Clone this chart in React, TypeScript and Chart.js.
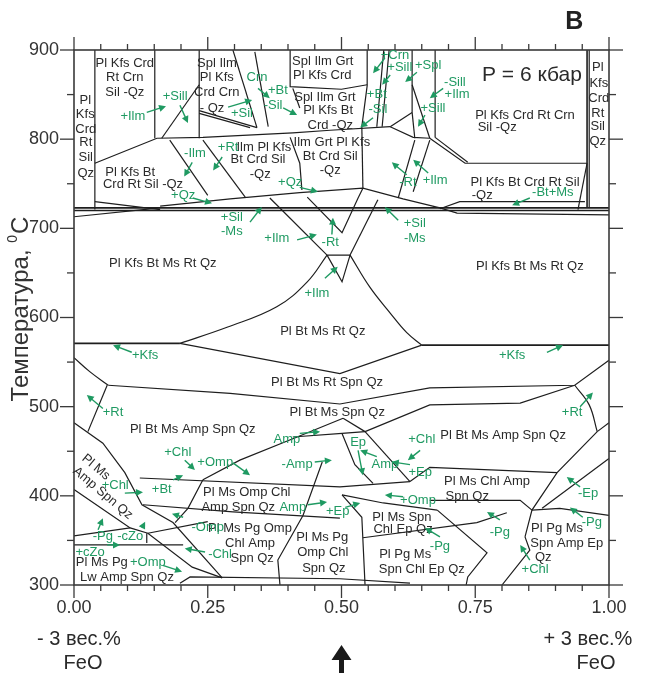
import React, { useEffect, useRef } from "react";
import { Chart, registerables } from "chart.js";
Chart.register(...registerables);

// ---- axis ticks ----
const xTickLabels = [0, 0.25, 0.5, 0.75, 1];
const yTickLabels = [300, 400, 500, 600, 700, 800, 900];

// ---- phase boundaries: [composition (0..1), T °C] ----
const thickLines: number[][][] = [
  [[0, 723], [1, 723]],
  [[0, 720], [1, 720]],
  [[0, 571], [0.198, 571]],
  [[0.65, 569], [1, 569]],
  [[0.959, 900], [0.959, 723]],
];

const topLines: number[][][] = [
  [[0.039, 900], [0.039, 721]],
  [[0.151, 900], [0.151, 801]],
  [[0.234, 900], [0.234, 801]],
  [[0.234, 861], [0.164, 801]],
  [[0.234, 832], [0.342, 813]],
  [[0.234, 829], [0.329, 813]],
  [[0.039, 773], [0.155, 801], [0.241, 802], [0.409, 807], [0.479, 810], [0.591, 814]],
  [[0.297, 900], [0.342, 813]],
  [[0.338, 898], [0.363, 814]],
  [[0.404, 900], [0.404, 859], [0.5, 856], [0.548, 861]],
  [[0.409, 857], [0.422, 835]],
  [[0.548, 900], [0.548, 860], [0.538, 814]],
  [[0.579, 900], [0.566, 814]],
  [[0.589, 900], [0.576, 814]],
  [[0.632, 900], [0.632, 830]],
  [[0.632, 861], [0.665, 801]],
  [[0.591, 814], [0.632, 830]],
  [[0.591, 814], [0.634, 802], [0.665, 801]],
  [[0.632, 830], [0.637, 801]],
  [[0.675, 900], [0.675, 802]],
  [[0.665, 801], [0.731, 773], [0.959, 773]],
  [[0.675, 802], [0.736, 774]],
  [[0.963, 900], [0.963, 723]],
  [[0.959, 773], [0.942, 721]],
  [[0.684, 722], [0.721, 730], [0.955, 730]],
  [[0.637, 799], [0.606, 734]],
  [[0.665, 799], [0.634, 741]],
  [[0.404, 802], [0.422, 773], [0.426, 743]],
  [[0.538, 814], [0.54, 745]],
  [[0.179, 799], [0.25, 737]],
  [[0.241, 799], [0.32, 735]],
  [[0.161, 725], [0.292, 733], [0.422, 740], [0.54, 745], [0.615, 733], [0.684, 723]],
  [[0.039, 730], [0.161, 721]],
  [[0, 713], [0.161, 723]],
  [[0.684, 723], [0.716, 717], [1, 715]],
  [[0.366, 734], [0.473, 670]],
  [[0.436, 735], [0.501, 695], [0.531, 734], [0.54, 745]],
  [[0.568, 732], [0.516, 670]],
  [[0.473, 670], [0.516, 670], [0.501, 640], [0.473, 670]],
];

const curvedLines: number[][][] = [
  [[0.198, 571], [0.286, 589], [0.379, 612], [0.436, 640], [0.473, 670]],
  [[0.516, 670], [0.553, 634], [0.591, 605], [0.622, 583], [0.65, 569]],
  [[0, 555], [0.03, 539], [0.064, 524]],
  [[0.936, 524], [0.963, 502], [0.978, 472]],
];

const midLines: number[][][] = [
  [[0.198, 571], [0.497, 537], [0.65, 569]],
  [[0.064, 524], [0.292, 515], [0.497, 503], [0.665, 521], [0.936, 524], [1, 552]],
  [[0.062, 524], [0.026, 472]],
  [[0.978, 472], [1, 482]],
  [[0.503, 487], [0.544, 472]],
  [[0.544, 472], [0.665, 502], [0.834, 504], [0.936, 524]],
  [[0.241, 418], [0.31, 440], [0.409, 464], [0.503, 487]],
  [[0.409, 466], [0.501, 470]],
  [[0.501, 470], [0.544, 472]],
  [[0.501, 470], [0.525, 435], [0.559, 414]],
  [[0.544, 472], [0.628, 416]],
  [[0.123, 420], [0.497, 410], [0.628, 416]],
  [[0.628, 416], [0.665, 432], [0.903, 426]],
  [[0.978, 472], [0.903, 426], [0.856, 384], [0.843, 354]],
  [[1, 442], [0.875, 386]],
  [[0.856, 384], [0.908, 386], [1, 378]],
  [[0.665, 395], [0.834, 395], [0.856, 384]],
  [[0.54, 353], [0.753, 370], [0.809, 381]],
  [[0.843, 354], [0.852, 339], [0.8, 300]],
];

const lowLines: number[][][] = [
  [[0.464, 438], [0.428, 378], [0.381, 328], [0.385, 300]],
  [[0.129, 390], [0.297, 382], [0.497, 375]],
  [[0.241, 418], [0.213, 386], [0.189, 370]],
  [[0, 482], [0.054, 459], [0.095, 426], [0.127, 390], [0.185, 370], [0.277, 308]],
  [[0, 407], [0.105, 364], [0.138, 358], [0.221, 320], [0.277, 308]],
  [[0, 355], [0.105, 364]],
  [[0, 345], [0.204, 345]],
  [[0.136, 358], [0.136, 347]],
  [[0.138, 358], [0.25, 371]],
  [[0.198, 302], [0.217, 309], [0.497, 307], [0.628, 302]],
  [[0.501, 401], [0.538, 376], [0.544, 300]],
  [[0.501, 401], [0.578, 392], [0.679, 384]],
  [[0.679, 384], [0.772, 336], [0.736, 309], [0.733, 300]],
];

// ---- field labels: [text, composition, T] ----
const blackLabels: [string, number, number][] = [
  ["Pl Kfs Crd", 0.095, 885], ["Rt Crn", 0.095, 869], ["Sil -Qz", 0.095, 852],
  ["Pl", 0.021, 844], ["Kfs", 0.021, 828], ["Crd", 0.022, 811], ["Rt", 0.022, 796], ["Sil", 0.022, 779], ["Qz", 0.022, 762],
  ["Spl Ilm", 0.267, 885], ["Pl Kfs", 0.267, 869], ["Crd Crn", 0.267, 852], ["- Qz", 0.258, 835],
  ["Spl Ilm Grt", 0.465, 887], ["Pl Kfs Crd", 0.464, 871],
  ["Spl Ilm Grt", 0.469, 847], ["Pl Kfs Bt", 0.475, 832], ["Crd -Qz", 0.479, 815],
  ["Ilm Pl Kfs", 0.355, 791], ["Bt Crd Sil", 0.344, 777], ["-Qz", 0.348, 760],
  ["Ilm Grt Pl Kfs", 0.482, 796], ["Bt Crd Sil", 0.479, 781], ["-Qz", 0.479, 765],
  ["Pl Kfs Bt", 0.105, 763], ["Crd Rt Sil -Qz", 0.129, 749],
  ["Pl Kfs Crd Rt Crn", 0.843, 827], ["Sil -Qz", 0.791, 813],
  ["Pl", 0.979, 880], ["Kfs", 0.981, 863], ["Crd", 0.981, 846], ["Rt", 0.979, 829], ["Sil", 0.979, 814], ["Qz", 0.979, 797],
  ["Pl Kfs Bt Crd Rt Sil", 0.843, 752], ["-Qz", 0.763, 737],
  ["Pl Kfs Bt Ms Rt Qz", 0.166, 661], ["Pl Kfs Bt Ms Rt Qz", 0.852, 657],
  ["Pl Bt Ms Rt Qz", 0.465, 584], ["Pl Bt Ms Rt Spn Qz", 0.473, 527], ["Pl Bt Ms Spn Qz", 0.492, 493],
  ["Pl Bt Ms Amp Spn Qz", 0.222, 474], ["Pl Bt Ms Amp Spn Qz", 0.802, 468],
  ["Pl Ms Omp Chl", 0.323, 404], ["Amp Spn Qz", 0.307, 387],
  ["Pl Ms Pg Omp", 0.329, 364], ["Chl Amp", 0.329, 347], ["Spn Qz", 0.333, 330],
  ["Pl Ms Pg", 0.052, 325], ["Lw Amp Spn Qz", 0.099, 308],
  ["Pl Ms Pg", 0.464, 353], ["Omp Chl", 0.465, 336], ["Spn Qz", 0.467, 319],
  ["Pl Ms Spn", 0.613, 376], ["Chl Ep Qz", 0.615, 362],
  ["Pl Pg Ms", 0.619, 334], ["Spn Chl Ep Qz", 0.65, 317],
  ["Pl Ms Chl Amp", 0.772, 416], ["Spn Qz", 0.735, 399],
  ["Pl Pg Ms", 0.903, 364], ["Spn Amp Ep", 0.921, 347], ["Qz", 0.877, 331],
];
const rotatedLabels: [string, number, number][] = [
  ["Pl Ms", 0.041, 432], ["Amp Spn Qz", 0.054, 403],
];
const pressureLabel: [string, number, number] = ["P = 6 кбар", 0.856, 872];

// ---- reaction labels (green) and arrows ----
const greenLabels: [string, number, number][] = [
  ["+Sill", 0.189, 848], ["+Ilm", 0.11, 825], ["Crn", 0.342, 869], ["+Bt", 0.381, 855], ["-Sil", 0.372, 838], ["+Sil", 0.314, 829],
  ["-Ilm", 0.226, 784], ["+Rt", 0.288, 791], ["+Qz", 0.204, 737], ["+Qz", 0.404, 751], ["+Sil", 0.295, 712], ["-Ms", 0.295, 696],
  ["+Ilm", 0.379, 689], ["-Rt", 0.479, 684], ["+Ilm", 0.454, 627], ["+Sil", 0.637, 706], ["-Ms", 0.637, 689], ["-Rt", 0.624, 751], ["+Ilm", 0.675, 754],
  ["-Bt+Ms", 0.895, 740], ["+Crn", 0.6, 894], ["+Sill", 0.609, 880], ["+Spl", 0.662, 883], ["+Bt", 0.566, 850], ["-Sil", 0.568, 833],
  ["-Sill", 0.712, 864], ["+Ilm", 0.716, 850], ["+Sill", 0.671, 835], ["+Kfs", 0.133, 558], ["+Kfs", 0.819, 558],
  ["+Rt", 0.073, 494], ["+Rt", 0.931, 493], ["+Chl", 0.194, 449], ["+Omp", 0.264, 437], ["+Chl", 0.077, 412], ["+Bt", 0.164, 407],
  ["Amp", 0.398, 463], ["-Amp", 0.417, 435], ["Amp", 0.409, 387], ["+Ep", 0.493, 382], ["-Omp", 0.25, 365], ["-Chl", 0.273, 334],
  ["-Pg", 0.054, 354], ["-cZo", 0.105, 354], ["+cZo", 0.03, 337], ["+Omp", 0.138, 325],
  ["Ep", 0.531, 460], ["Amp", 0.581, 435], ["+Chl", 0.65, 463], ["+Ep", 0.647, 426], ["+Omp", 0.643, 395],
  ["-Pg", 0.684, 343], ["-Pg", 0.796, 359], ["-Ep", 0.961, 403], ["-Pg", 0.968, 370], ["+Chl", 0.862, 317],
];
const greenArrows: number[][] = [
  [0.198, 838, 0.213, 818], [0.136, 830, 0.172, 837], [0.344, 857, 0.366, 846], [0.391, 835, 0.417, 827], [0.288, 836, 0.333, 844],
  [0.221, 774, 0.206, 758], [0.277, 780, 0.26, 765], [0.222, 734, 0.258, 728], [0.422, 746, 0.456, 741], [0.329, 707, 0.351, 724],
  [0.417, 687, 0.454, 693], [0.482, 693, 0.484, 712], [0.469, 644, 0.493, 657], [0.606, 709, 0.581, 724], [0.622, 760, 0.594, 774],
  [0.662, 762, 0.634, 777], [0.852, 734, 0.819, 726], [0.581, 891, 0.559, 874], [0.591, 872, 0.576, 861], [0.641, 875, 0.619, 864],
  [0.559, 824, 0.535, 813], [0.69, 857, 0.665, 846], [0.656, 827, 0.643, 814], [0.108, 561, 0.073, 569], [0.884, 561, 0.914, 569],
  [0.054, 498, 0.024, 513], [0.946, 500, 0.97, 516], [0.207, 440, 0.226, 429], [0.297, 437, 0.329, 423], [0.095, 403, 0.129, 404],
  [0.185, 418, 0.204, 423], [0.422, 470, 0.46, 472], [0.45, 438, 0.482, 440], [0.437, 390, 0.473, 393], [0.507, 387, 0.535, 392],
  [0.204, 376, 0.183, 380], [0.245, 337, 0.207, 341], [0.045, 362, 0.054, 375], [0.127, 364, 0.133, 371], [0.062, 345, 0.086, 345],
  [0.166, 322, 0.202, 315], [0.531, 451, 0.54, 423], [0.566, 444, 0.535, 451], [0.647, 451, 0.624, 440], [0.628, 435, 0.594, 438],
  [0.615, 399, 0.581, 401], [0.684, 354, 0.656, 364], [0.796, 373, 0.772, 382], [0.946, 410, 0.921, 421], [0.951, 376, 0.927, 387],
  [0.852, 328, 0.834, 345],
];

const FONT = '"Liberation Sans", Arial, sans-serif';
const INK = "#1e1e1e";
const GREEN = "#1f9a62";

function mk(pts: number[][], w: number, curved = false) {
  return {
    type: "scatter" as const,
    data: pts.map(([a, b]) => ({ x: a, y: b })),
    showLine: true,
    borderColor: INK,
    backgroundColor: INK,
    borderWidth: w,
    pointRadius: 0,
    tension: curved ? 0.4 : 0,
    xAxisID: "x",
    yAxisID: "y",
  };
}

function arrow(ctx: CanvasRenderingContext2D, x1: number, y1: number, x2: number, y2: number) {
  const a = Math.atan2(y2 - y1, x2 - x1);
  const hl = 7, hw = 3.5;
  ctx.beginPath();
  ctx.moveTo(x1, y1);
  ctx.lineTo(x2 - hl * 0.7 * Math.cos(a), y2 - hl * 0.7 * Math.sin(a));
  ctx.stroke();
  ctx.beginPath();
  ctx.moveTo(x2, y2);
  ctx.lineTo(x2 - hl * Math.cos(a) + hw * Math.sin(a), y2 - hl * Math.sin(a) - hw * Math.cos(a));
  ctx.lineTo(x2 - hl * Math.cos(a) - hw * Math.sin(a), y2 - hl * Math.sin(a) + hw * Math.cos(a));
  ctx.closePath();
  ctx.fill();
}

const overlay = {
  id: "overlay",
  afterDatasetsDraw(chart: any) {
    const { ctx, chartArea: ar, scales } = chart;
    const xs = scales.x, ys = scales.y;
    const X = (v: number) => xs.getPixelForValue(v);
    const Y = (v: number) => ys.getPixelForValue(v);
    ctx.save();
    const seg = (a: number, b: number, c: number, d: number) => {
      ctx.beginPath(); ctx.moveTo(a, b); ctx.lineTo(c, d); ctx.stroke();
    };
    // frame + ticks
    ctx.strokeStyle = "#3a3a3a";
    ctx.lineWidth = 1.6;
    ctx.strokeRect(ar.left, ar.top, ar.right - ar.left, ar.bottom - ar.top);
    ctx.lineWidth = 1.3;
    for (let i = 0; i <= 20; i++) {
      const px = X(i * 0.05);
      const L = i % 5 === 0 ? 13 : 6;
      seg(px, ar.bottom, px, ar.bottom + L);
      seg(px, ar.top, px, ar.top - L);
    }
    for (let t = 300; t <= 900; t += 50) {
      const py = Y(t);
      const L = t % 100 === 0 ? 14 : 7;
      seg(ar.left - L, py, ar.left, py);
      seg(ar.right, py, ar.right + L, py);
    }
    // tick labels
    ctx.fillStyle = "#333";
    ctx.font = `18px ${FONT}`;
    ctx.textAlign = "center";
    ctx.textBaseline = "middle";
    xTickLabels.forEach((v) => ctx.fillText(v.toFixed(2), X(v), ar.bottom + 23));
    ctx.textAlign = "right";
    yTickLabels.forEach((t) => ctx.fillText(String(t), ar.left - 15, Y(t)));

    // y title with superscript 0
    ctx.save();
    ctx.translate(ar.left - 53, (ar.top + ar.bottom) / 2 - 8);
    ctx.rotate(-Math.PI / 2);
    ctx.textAlign = "left";
    const big = `24px ${FONT}`, small = `14px ${FONT}`;
    ctx.font = big;
    const t1 = "Температура, ";
    const w1 = ctx.measureText(t1).width;
    ctx.font = small;
    const w2 = ctx.measureText("0").width;
    ctx.font = big;
    const w3 = ctx.measureText("C").width;
    const x0 = -(w1 + w2 + w3) / 2;
    ctx.fillText(t1, x0, 0);
    ctx.font = small;
    ctx.fillText("0", x0 + w1, -8);
    ctx.font = big;
    ctx.fillText("C", x0 + w1 + w2 + 1, 0);
    ctx.restore();

    // bottom captions
    ctx.fillStyle = "#2a2a2a";
    ctx.font = `20px ${FONT}`;
    ctx.textAlign = "center";
    ctx.fillText("- 3 вес.%", X(0) + 5, ar.bottom + 54);
    ctx.fillText("FeO", X(0) + 9, ar.bottom + 78);
    ctx.fillText("+ 3 вес.%", X(1) - 21, ar.bottom + 54);
    ctx.fillText("FeO", X(1) - 13, ar.bottom + 78);
    // up arrow at 0.50
    const ax = X(0.5);
    ctx.fillStyle = "#1a1a1a";
    ctx.beginPath();
    ctx.moveTo(ax, ar.bottom + 60);
    ctx.lineTo(ax + 10, ar.bottom + 75);
    ctx.lineTo(ax + 2.5, ar.bottom + 75);
    ctx.lineTo(ax + 2.5, ar.bottom + 88);
    ctx.lineTo(ax - 2.5, ar.bottom + 88);
    ctx.lineTo(ax - 2.5, ar.bottom + 75);
    ctx.lineTo(ax - 10, ar.bottom + 75);
    ctx.closePath();
    ctx.fill();

    // panel letter
    ctx.font = `600 25px ${FONT}`;
    ctx.fillStyle = "#222";
    ctx.fillText("В", X(0.935), ar.top - 28);

    // field labels
    ctx.font = `13px ${FONT}`;
    ctx.fillStyle = "#2a2a2a";
    blackLabels.forEach(([t, a, b]) => ctx.fillText(t, X(a), Y(b)));
    rotatedLabels.forEach(([t, a, b]) => {
      ctx.save();
      ctx.translate(X(a), Y(b));
      ctx.rotate((40 * Math.PI) / 180);
      ctx.fillText(t, 0, 0);
      ctx.restore();
    });
    ctx.font = `21px ${FONT}`;
    ctx.fillText(pressureLabel[0], X(pressureLabel[1]), Y(pressureLabel[2]));

    // reactions
    ctx.font = `13px ${FONT}`;
    ctx.fillStyle = GREEN;
    ctx.strokeStyle = GREEN;
    ctx.lineWidth = 1.4;
    greenLabels.forEach(([t, a, b]) => ctx.fillText(t, X(a), Y(b)));
    greenArrows.forEach(([a, b, c, d]) => arrow(ctx, X(a), Y(b), X(c), Y(d)));
    ctx.restore();
  },
};

export default function App() {
  const ref = useRef<HTMLCanvasElement>(null);
  useEffect(() => {
    if (!ref.current) return;
    const datasets = [
      ...thickLines.map((p) => mk(p, 1.6)),
      ...topLines.map((p) => mk(p, 1.2)),
      ...curvedLines.map((p) => mk(p, 1.2, true)),
      ...midLines.map((p) => mk(p, 1.2)),
      ...lowLines.map((p) => mk(p, 1.2)),
    ];
    const hidden = { ticks: { display: false }, grid: { display: false }, border: { display: false } };
    const chart = new Chart(ref.current, {
      type: "scatter",
      data: { datasets: datasets as any },
      options: {
        animation: false,
        responsive: false,
        devicePixelRatio: 1,
        events: [],
        layout: { padding: 0 },
        plugins: { legend: { display: false }, tooltip: { enabled: false } },
        scales: {
          x: { type: "linear", position: "bottom", min: 0, max: 1, ...hidden, afterFit: (s: any) => { s.height = 93; } },
          x2: { type: "linear", position: "top", min: 0, max: 1, ...hidden, afterFit: (s: any) => { s.height = 50; } },
          y: { type: "linear", position: "left", min: 300, max: 900, ...hidden, afterFit: (s: any) => { s.width = 74; } },
          y2: { type: "linear", position: "right", min: 300, max: 900, ...hidden, afterFit: (s: any) => { s.width = 37; } },
        },
      } as any,
      plugins: [overlay],
    });
    return () => chart.destroy();
  }, []);
  return (
    <div style={{ position: "fixed", left: 0, top: 0, width: 646, height: 678, background: "#fff" }}>
      <canvas ref={ref} width={646} height={678} />
    </div>
  );
}
